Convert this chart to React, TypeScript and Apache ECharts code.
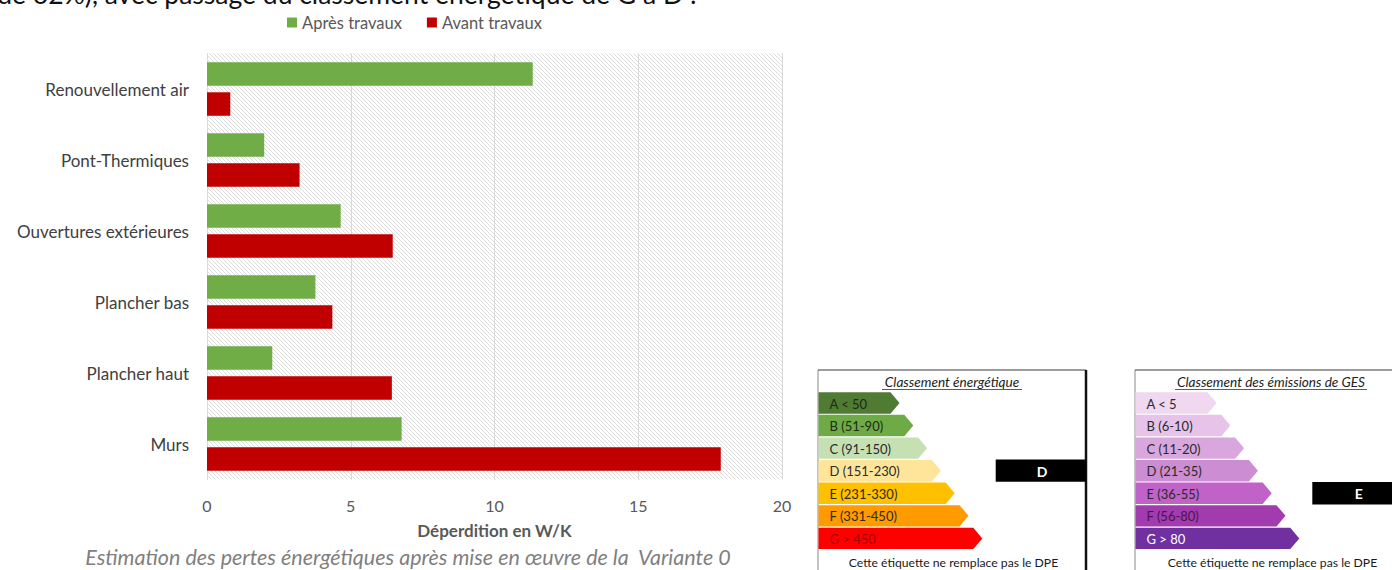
import React, { useEffect, useRef } from "react";
import * as echarts from "echarts";

// ---- data ----
const categories = [
  "Renouvellement air",
  "Pont-Thermiques",
  "Ouvertures extérieures",
  "Plancher bas",
  "Plancher haut",
  "Murs",
];
const apresTravaux = [11.33, 1.99, 4.65, 3.77, 2.27, 6.77];
const avantTravaux = [0.81, 3.22, 6.46, 4.36, 6.43, 17.87];
const seriesNames = ["Après travaux", "Avant travaux"];
const xMin = 0;
const xMax = 20;
const xInterval = 5;
const xAxisTitle = "Déperdition en W/K";
const caption = "Estimation des pertes énergétiques après mise en œuvre de la  Variante 0";
const headerText = "de 62%), avec passage du classement énergétique de G à D !";

const energyTitle = "Classement énergétique";
const energyClasses = ["A < 50", "B (51-90)", "C (91-150)", "D (151-230)", "E (231-330)", "F (331-450)", "G > 450"];
const energyColors = ["#4f7b33", "#6eab46", "#c5e0b3", "#ffe59a", "#ffc000", "#ff9a00", "#ff0000"];
const energyTextColors = ["#1e2a14", "#1e2a14", "#2a2a2a", "#2a2a2a", "#2a2a2a", "#2a2a2a", "#a30000"];
const energyResult = "D";
const energyResultIndex = 3;

const gesTitle = "Classement des émissions de GES";
const gesClasses = ["A < 5", "B (6-10)", "C (11-20)", "D (21-35)", "E (36-55)", "F (56-80)", "G > 80"];
const gesColors = ["#f0d8f1", "#e7c3ea", "#daa6de", "#cd8dd3", "#c062c7", "#a23bae", "#7030a0"];
const gesTextColors = ["#2a2a2a", "#2a2a2a", "#2a2a2a", "#2a2a2a", "#2a2a2a", "#4a1350", "#ffffff"];
const gesResult = "E";
const gesResultIndex = 4;

const footerText = "Cette étiquette ne remplace pas le DPE";

const FONT = "Lato, 'Noto Sans', sans-serif";

function makeHatch(): HTMLCanvasElement {
  const s = 4;
  const c = document.createElement("canvas");
  c.width = s;
  c.height = s;
  const ctx = c.getContext("2d")!;
  ctx.fillStyle = "#ffffff";
  ctx.fillRect(0, 0, s, s);
  ctx.strokeStyle = "#dcdcdc";
  ctx.lineWidth = 1;
  ctx.beginPath();
  ctx.moveTo(-1, -1);
  ctx.lineTo(s + 1, s + 1);
  ctx.moveTo(-1, s - 1);
  ctx.lineTo(1, s + 1);
  ctx.moveTo(s - 1, -1);
  ctx.lineTo(s + 1, 1);
  ctx.stroke();
  return c;
}

function buildLabel(
  left: number,
  right: number,
  title: string,
  classes: string[],
  colors: string[],
  textColors: string[],
  resultIndex: number,
  resultText: string,
  resultLeft: number,
  resultRight: number,
  borderRight: boolean,
  center: number
): any[] {
  const els: any[] = [];
  const top = 370;
  const rowTop0 = 392.3;
  const rowStep = 22.57;
  const rowH = 21.4;
  const tip = 9;
  // borders
  els.push({ type: "line", shape: { x1: left, y1: top, x2: left, y2: 570 }, style: { stroke: "#8a8a8a", lineWidth: 1 } });
  els.push({ type: "line", shape: { x1: left, y1: top, x2: right, y2: top }, style: { stroke: "#3a3a3a", lineWidth: 1 } });
  if (borderRight) {
    els.push({ type: "line", shape: { x1: right, y1: top, x2: right, y2: 570 }, style: { stroke: "#111111", lineWidth: 2.5 } });
  }
  // title
  els.push({
    type: "text",
    style: {
      text: title,
      x: center,
      y: 381.5,
      textAlign: "center",
      textVerticalAlign: "middle",
      fontSize: 13.6,
      fontStyle: "italic",
      fontFamily: FONT,
      fill: "#222222",
    },
  });
  // rows
  classes.forEach((cls, i) => {
    const y0 = rowTop0 + i * rowStep;
    const w = 81 + i * 13.8;
    const x0 = left + 0.5;
    els.push({
      type: "polygon",
      shape: {
        points: [
          [x0, y0],
          [x0 + w - tip, y0],
          [x0 + w, y0 + rowH / 2],
          [x0 + w - tip, y0 + rowH],
          [x0, y0 + rowH],
        ],
      },
      style: { fill: colors[i] },
    });
    els.push({
      type: "text",
      style: {
        text: cls,
        x: x0 + 11,
        y: y0 + rowH / 2 + 0.5,
        textAlign: "left",
        textVerticalAlign: "middle",
        fontSize: 13,
        fontFamily: FONT,
        fill: textColors[i],
      },
    });
  });
  // result box
  const ry = rowTop0 + resultIndex * rowStep - 0.6;
  els.push({
    type: "rect",
    shape: { x: resultLeft, y: ry, width: resultRight - resultLeft, height: rowH + 1 },
    style: { fill: "#000000" },
  });
  els.push({
    type: "text",
    style: {
      text: resultText,
      x: resultLeft + 46.5,
      y: ry + (rowH + 1) / 2 + 0.5,
      textAlign: "center",
      textVerticalAlign: "middle",
      fontSize: 14,
      fontWeight: "bold",
      fontFamily: FONT,
      fill: "#ffffff",
    },
  });
  // footer
  els.push({
    type: "text",
    style: {
      text: footerText,
      x: center + 1.5,
      y: 562,
      textAlign: "center",
      textVerticalAlign: "middle",
      fontSize: 12.2,
      fontFamily: FONT,
      fill: "#1a1a1a",
    },
  });
  return els;
}

function underline(cx: number, y: number, w: number): any {
  return { type: "line", shape: { x1: cx - w / 2, y1: y, x2: cx + w / 2, y2: y }, style: { stroke: "#333333", lineWidth: 0.8 } };
}

export default function App() {
  const ref = useRef<HTMLDivElement>(null);

  useEffect(() => {
    if (!ref.current) return;
    const chart = echarts.init(ref.current, undefined, { renderer: "svg" });
    const hatch = makeHatch();

    const energyEls = buildLabel(818, 1086, energyTitle, energyClasses, energyColors, energyTextColors, energyResultIndex, energyResult, 995.7, 1086, true, 952);
    const gesEls = buildLabel(1135, 1400, gesTitle, gesClasses, gesColors, gesTextColors, gesResultIndex, gesResult, 1312.3, 1400, false, 1271);

    const option: any = {
      animation: false,
      backgroundColor: "#ffffff",
      textStyle: { fontFamily: FONT },
      legend: {
        data: seriesNames,
        left: 282,
        top: 9,
        icon: "rect",
        itemWidth: 10,
        itemHeight: 10,
        itemGap: 25,
        textStyle: { color: "#595959", fontSize: 16.5, fontFamily: FONT },
      },
      grid: {
        show: true,
        left: 207,
        width: 575,
        top: 53.5,
        height: 426,
        borderWidth: 0,
        backgroundColor: { image: hatch, repeat: "repeat", imageWidth: 4, imageHeight: 4 },
        containLabel: false,
      },
      xAxis: {
        type: "value",
        min: xMin,
        max: xMax,
        interval: xInterval,
        axisLine: { show: false },
        axisTick: { show: false },
        splitLine: { show: true, lineStyle: { color: "#d9d9d9", width: 1 } },
        axisLabel: { color: "#595959", fontSize: 16, margin: 18, fontFamily: FONT },
        name: xAxisTitle,
        nameLocation: "middle",
        nameGap: 42,
        nameTextStyle: { color: "#595959", fontSize: 17, fontWeight: "bold", fontFamily: FONT },
      },
      yAxis: {
        type: "category",
        data: categories,
        inverse: true,
        axisLine: { show: true, lineStyle: { color: "#d9d9d9" } },
        axisTick: { show: false },
        axisLabel: { color: "#404040", fontSize: 17, margin: 18, fontFamily: FONT },
      },
      series: [
        {
          name: seriesNames[0],
          type: "bar",
          data: apresTravaux,
          barWidth: 23.5,
          barGap: "28%",
          itemStyle: { color: "#70ad47" },
        },
        {
          name: seriesNames[1],
          type: "bar",
          data: avantTravaux,
          barWidth: 23.5,
          barGap: "28%",
          itemStyle: { color: "#c00000" },
        },
      ],
      graphic: [
        {
          type: "text",
          style: {
            text: headerText,
            x: 697,
            y: 7,
            textAlign: "right",
            textVerticalAlign: "bottom",
            fontSize: 26.5,
            fontFamily: FONT,
            fill: "#111111",
          },
        },
        {
          type: "text",
          style: {
            text: caption,
            x: 408,
            y: 557,
            textAlign: "center",
            textVerticalAlign: "middle",
            fontSize: 21.5,
            fontStyle: "italic",
            fontFamily: FONT,
            fill: "#7f7f7f",
          },
        },
        ...energyEls,
        underline(952, 389.5, 140),
        ...gesEls,
        underline(1271, 389.5, 192),
      ],
    };
    chart.setOption(option);
    return () => chart.dispose();
  }, []);

  return (
    <div
      ref={ref}
      style={{ position: "fixed", left: 0, top: 0, width: 1392, height: 570, background: "#ffffff" }}
    />
  );
}
